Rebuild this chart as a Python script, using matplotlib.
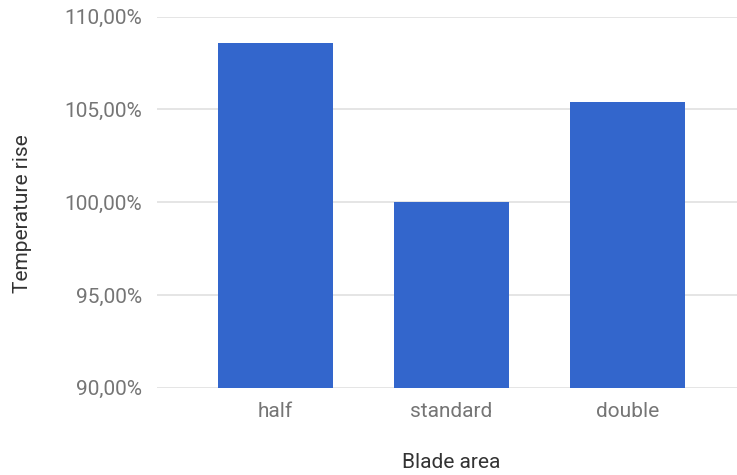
import matplotlib.pyplot as plt
from matplotlib.ticker import FuncFormatter

# --- data ---------------------------------------------------------------
categories = ["half", "standard", "double"]
temperature_rise = [108.57, 100.0, 105.40]
y_ticks = [90, 95, 100, 105, 110]

BAR_COLOR = "#3366cc"
GRID_COLOR = "#e0e0e0"
TICK_COLOR = "#757575"
TITLE_COLOR = "#333333"

plt.rcParams["font.family"] = ["Roboto", "DejaVu Sans"]

W, H, DPI = 737, 475, 100
fig = plt.figure(figsize=(W / DPI, H / DPI), dpi=DPI)

# plot area in pixels: left 157, right 746, top 16.7, bottom 387.7
left, right, top, bottom = 157, 746, 16.7, 387.7
ax = fig.add_axes([left / W, 1 - bottom / H, (right - left) / W, (bottom - top) / H])

x = range(len(categories))
ax.bar(x, [v - 90 for v in temperature_rise], bottom=90, width=0.65,
       color=BAR_COLOR, zorder=3)

ax.set_xlim(-0.674, 2.674)
ax.set_ylim(90, 110)
ax.set_yticks(y_ticks)
ax.yaxis.set_major_formatter(
    FuncFormatter(lambda v, _: f"{v:.2f}".replace(".", ",") + "%"))
ax.set_xticks(list(x))
ax.set_xticklabels(categories)

ax.grid(axis="y", color=GRID_COLOR, linewidth=1.2, zorder=0)
ax.set_axisbelow(True)
for spine in ax.spines.values():
    spine.set_visible(False)
ax.tick_params(axis="both", length=0, labelsize=15, colors=TICK_COLOR)
ax.tick_params(axis="y", pad=11)
ax.tick_params(axis="x", pad=10)

fig.text(451.5 / W, 1 - 462 / H, "Blade area", ha="center", va="center",
         fontsize=15, color=TITLE_COLOR)
fig.text(23 / W, 1 - 214 / H, "Temperature rise", ha="center", va="center",
         rotation=90, fontsize=15, color=TITLE_COLOR)

fig.savefig("out.png", dpi=DPI, facecolor="white")
